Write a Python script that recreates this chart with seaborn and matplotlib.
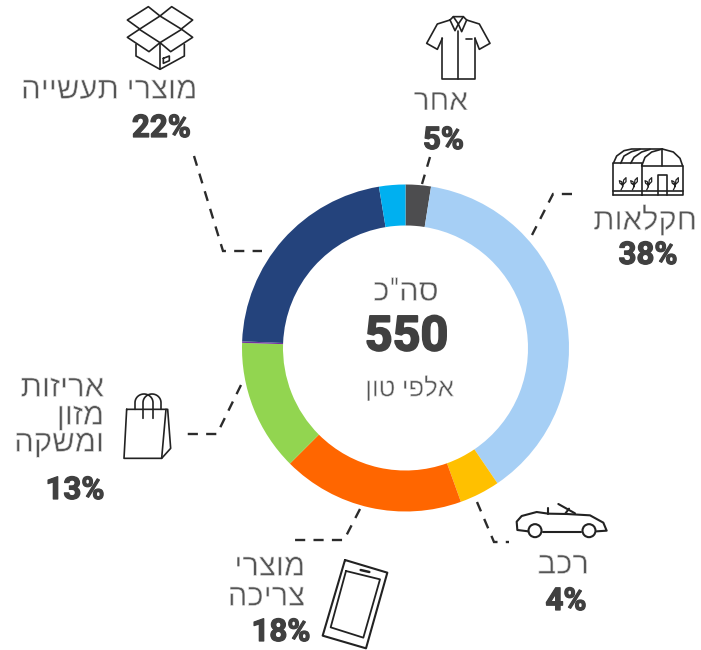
import numpy as np
import matplotlib
matplotlib.use("Agg")
import matplotlib.pyplot as plt
import matplotlib.patheffects as pe
from matplotlib.patches import Circle
import seaborn as sns

W, H = 701, 650

# ---- data ----
segment_names = ["אחר", "חקלאות", "רכב", "מוצרי צריכה", "אריזות מזון ומשקה", "אחר2", "מוצרי תעשייה", "אחר3"]
segment_values = [2.5, 38, 4, 18, 13, 0.15, 21.75, 2.6]
segment_colors = ["#4d4d4f", "#a6cff5", "#ffc000", "#ff6600", "#92d550", "#7030a0", "#24437c", "#00b0f0"]
label_texts = [["מוצרי תעשייה"], ["אחר"], ["חקלאות"], ["רכב"], ["מוצרי", "צריכה"], ["אריזות", "מזון", "ומשקה"]]
percent_texts = ["22%", "5%", "38%", "4%", "18%", "13%"]
total_title = 'סה"כ'
total_value = "550"
total_unit = "אלפי טון"

sns.set_theme(style="white")
plt.rcParams["font.family"] = ["Roboto", "Liberation Sans", "DejaVu Sans"]

GREY = "#555555"
DARK = "#404040"
INK = "#222222"

fig = plt.figure(figsize=(W / 100, H / 100), dpi=100)
ax = fig.add_axes([0, 0, 1, 1])


def rtl(s):
    return s[::-1]


def Y(y):
    return H - y


ax.pie(segment_values, colors=segment_colors, startangle=90, counterclock=False,
       center=(405.5, Y(348)), radius=163.5, frame=True,
       wedgeprops=dict(width=41, linewidth=0))
ax.set_xlim(0, W)
ax.set_ylim(0, H)
ax.set_aspect("equal")
ax.axis("off")

THIN = [pe.Normal(), pe.Stroke(linewidth=0.45, foreground="white")]


def heavy(w):
    return [pe.Stroke(linewidth=w, foreground=DARK), pe.Normal()]


def label(x, y, s, ha="right", size=22.3):
    ax.text(x, Y(y), rtl(s), ha=ha, va="center", fontsize=size, color=GREY, path_effects=THIN)


def pct(x, y, s, size=22.5):
    ax.text(x, Y(y), s, ha="center", va="center", fontsize=size, color=DARK, fontweight="bold",
            path_effects=heavy(0.9))


def dash(*pts):
    xs, ys = zip(*pts)
    ax.plot(xs, [Y(v) for v in ys], color="#2b2b2b", lw=1.7, dashes=(4.3, 3.5),
            dash_capstyle="butt", dash_joinstyle="miter")


def poly(pts, ox, oy, s=3.0, lw=1.2, closed=False, color=INK):
    p = list(pts) + ([pts[0]] if closed else [])
    xs = [ox + a / s for a, _ in p]
    ys = [Y(oy + b / s) for _, b in p]
    ax.plot(xs, ys, color=color, lw=lw, solid_joinstyle="round", solid_capstyle="round")


# text
label(197, 90, label_texts[0][0])
label(468, 102, label_texts[1][0], size=21.5)
label(697, 220, label_texts[2][0])
label(589, 565, label_texts[3][0])
label(305, 567, label_texts[4][0])
label(305, 597, label_texts[4][1])
label(104, 388, label_texts[5][0])
label(104, 416, label_texts[5][1])
label(104, 443, label_texts[5][2])
pct(161.5, 128, percent_texts[0])
pct(443.5, 140, percent_texts[1])
pct(648, 255, percent_texts[2])
pct(566, 601, percent_texts[3])
pct(281, 632, percent_texts[4])
pct(75, 490, percent_texts[5])
ax.text(406, Y(292), rtl(total_title), ha="center", va="center", fontsize=22, color=GREY, path_effects=THIN)
ax.text(406.5, Y(337.5), total_value, ha="center", va="center", fontsize=35, color=DARK, fontweight="bold",
        path_effects=heavy(1.3))
ax.text(409.5, Y(388), rtl(total_unit), ha="center", va="center", fontsize=18.5, color=GREY, path_effects=THIN)

# leader lines
dash((194, 156), (223, 251), (262, 251))
dash((430, 157), (422, 184))
dash((572, 194), (553, 194), (532, 235))
dash((477, 502), (494, 542), (509, 542))
dash((360, 509), (344, 540), (288, 540))
dash((241, 385), (217, 434), (187, 434))

# box icon
o = (100, 0)
for seg, closed in [
    ([(180, 48), (145, 20), (82, 60), (118, 86)], False),
    ([(180, 48), (215, 20), (278, 60), (245, 86)], False),
    ([(180, 48), (245, 88), (180, 128), (118, 88)], True),
    ([(118, 88), (82, 112), (147, 155), (180, 128)], False),
    ([(245, 88), (278, 112), (212, 155), (180, 128)], False),
    ([(108, 133), (108, 168), (180, 208), (253, 168), (253, 133)], False),
    ([(180, 128), (180, 208)], False),
    ([(190, 175), (208, 168), (208, 182), (190, 190)], True),
]:
    poly(seg, *o, closed=closed)

# shirt icon
for seg in [
    [(1027, 115), (1027, 238), (1125, 238), (1125, 115)],
    [(1073, 92), (1073, 238)],
    [(1050, 60), (1012, 72), (980, 130), (1012, 148), (1027, 115)],
    [(1100, 60), (1138, 72), (1170, 130), (1138, 148), (1125, 115)],
    [(1050, 60), (1060, 50), (1090, 50), (1100, 60), (1085, 95), (1075, 72), (1065, 92), (1050, 60)],
    [(1060, 50), (1075, 72), (1090, 50)],
    [(1097, 117), (1115, 117)],
]:
    poly(seg, *o)

# greenhouse icon
o = (500, 130)
for seg in [
    [(340, 195), (548, 195), (548, 108), (425, 108), (425, 195)],
    [(340, 195), (340, 100), (425, 100), (425, 108)],
    [(340, 183), (548, 183)],
    [(340, 100), (350, 78), (372, 62), (395, 57), (487, 57), (520, 66), (540, 85), (548, 108)],
    [(425, 108), (435, 82), (455, 66), (487, 57)],
    [(487, 57), (487, 108)],
    [(362, 100), (372, 78), (395, 65), (420, 58)],
    [(392, 100), (402, 82), (425, 66), (450, 58)],
    [(473, 195), (473, 135), (500, 135), (500, 195)],
]:
    poly(seg, *o)
for px in (368, 402, 445, 525):
    poly([(px - 5, 180), (px, 170), (px + 3, 150), (px + 10, 143), (px + 10, 155), (px, 165), (px - 8, 160), (px - 10, 152), (px - 3, 155), (px, 170)],
         *o, lw=0.9)

# shopping bag icon
o = (0, 360)
for seg in [
    [(380, 148), (503, 148), (512, 265), (485, 295), (372, 295), (380, 148)],
    [(498, 148), (485, 295)],
]:
    poly(seg, *o)
for cx, w, bottoms in [(432, 27, (148, 175)), (456, 27, (175, 148))]:
    t = np.linspace(np.pi, 0, 24)
    pts = [(cx + w * np.cos(a), 128 - 26 * np.sin(a)) for a in t]
    pts = [(pts[0][0], bottoms[0])] + pts + [(pts[-1][0], bottoms[1])]
    poly(pts, *o)

# phone icon
o = (220, 490)
poly([(375, 210), (502, 248), (438, 475), (308, 437)], *o, closed=True, lw=1.5)
poly([(378, 243), (480, 268), (430, 443), (332, 412)], *o, closed=True, lw=1.3)
poly([(422, 240), (448, 246)], *o, lw=1.8)

# car icon
for seg in [
    [(925, 124), (892, 120), (890, 95), (905, 78), (950, 66), (985, 71), (1040, 72), (1110, 76), (1150, 98), (1160, 122), (1130, 124)],
    [(970, 125), (1082, 125)],
    [(1015, 42), (1065, 70)],
    [(985, 55), (985, 72)],
    [(1035, 72), (1047, 56)],
]:
    poly(seg, *o, lw=1.5)
for cx in (945, 1107):
    ax.add_patch(Circle((220 + cx / 3, Y(490 + 122 / 3)), 6.5, fill=False, ec=INK, lw=1.5))

fig.savefig("out.png", dpi=100, facecolor="white")
